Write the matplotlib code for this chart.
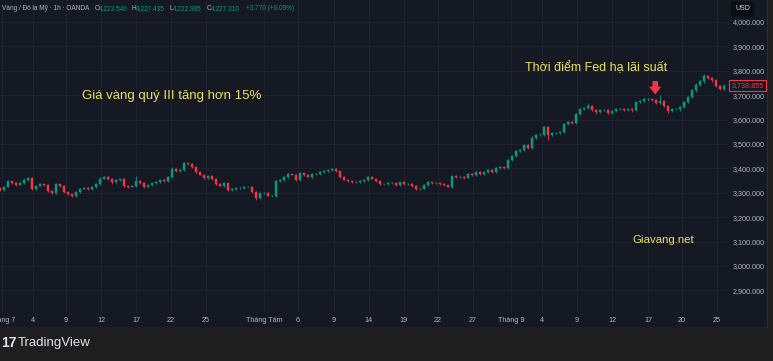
import matplotlib
matplotlib.use("Agg")
import matplotlib.pyplot as plt
from matplotlib.patches import Rectangle
from matplotlib.lines import Line2D
import matplotlib.transforms as mtransforms

# ~8h candles, XAU/USD, Jul - Sep
first_open = 3318
closes = [
    3312, 3324, 3348, 3340, 3332, 3340, 3353, 3361, 3316, 3328,
    3336, 3332, 3307, 3299, 3336, 3328, 3303, 3295, 3287, 3303,
    3316, 3320, 3316, 3324, 3336, 3357, 3365, 3357, 3344, 3353,
    3357, 3328, 3324, 3328, 3348, 3340, 3324, 3332, 3340, 3344,
    3353, 3348, 3365, 3398, 3389, 3393, 3422, 3418, 3406, 3385,
    3373, 3361, 3369, 3357, 3336, 3328, 3340, 3312, 3316, 3320,
    3320, 3324, 3324, 3303, 3279, 3299, 3299, 3287, 3287, 3348,
    3353, 3365, 3377, 3373, 3353, 3381, 3373, 3365, 3377, 3377,
    3385, 3389, 3393, 3398, 3389, 3365, 3353, 3348, 3344, 3344,
    3348, 3353, 3365, 3357, 3348, 3336, 3336, 3340, 3340, 3332,
    3344, 3336, 3336, 3328, 3316, 3316, 3332, 3344, 3340, 3340,
    3336, 3332, 3324, 3369, 3365, 3365, 3361, 3377, 3373, 3385,
    3377, 3385, 3393, 3385, 3402, 3406, 3402, 3434, 3451, 3471,
    3475, 3496, 3484, 3525, 3537, 3537, 3570, 3537, 3545, 3545,
    3549, 3582, 3590, 3586, 3623, 3643, 3648, 3656, 3639, 3631,
    3639, 3639, 3627, 3635, 3643, 3643, 3639, 3643, 3639, 3672,
    3676, 3684, 3684, 3680, 3668, 3676, 3656, 3635, 3643, 3643,
    3652, 3672, 3693, 3721, 3742, 3758, 3779, 3770, 3762, 3738,
    3725, 3739,
]
wick_hi = [
    4, 3, 5, 2, 3, 4, 6, 3, 2, 4,
    3, 2, 4, 3, 5, 2, 3, 4, 2, 3,
    5, 3, 2, 4, 3, 6, 4, 2, 3, 5,
    3, 4, 2, 3, 21, 4, 3, 2, 5, 3,
    4, 3, 2, 6, 3, 4, 5, 2, 3, 4,
    3, 4, 2, 3, 5, 3, 4, 2, 3, 4,
    2, 3, 4, 5, 3, 2, 4, 3, 5, 3,
    4, 2, 3, 6, 4, 3, 2, 5, 3, 4,
    3, 4, 2, 3, 5, 2, 4, 3, 3, 4,
    5, 3, 2, 4, 3, 5, 2, 3, 4, 3,
    2, 4, 3, 5, 3, 2, 4, 3, 2, 4,
    3, 5, 2, 3, 4, 2, 5, 3, 4, 3,
    4, 2, 3, 5, 3, 4, 2, 6, 3, 4,
    5, 3, 4, 6, 3, 8, 5, 4, 3, 5,
    4, 6, 3, 5, 4, 3, 5, 12, 4, 3,
    5, 3, 4, 6, 3, 4, 5, 3, 4, 6,
    4, 5, 3, 6, 4, 25, 5, 3, 4, 5,
    3, 6, 4, 5, 7, 4, 6, 5, 3, 6,
    4, 5,
]
wick_lo = [
    3, 4, 2, 5, 3, 2, 4, 3, 6, 3,
    2, 4, 3, 5, 2, 3, 4, 2, 3, 5,
    3, 2, 4, 3, 5, 3, 2, 4, 6, 3,
    4, 3, 5, 2, 3, 4, 3, 2, 4, 3,
    3, 5, 2, 4, 3, 2, 4, 3, 5, 3,
    2, 4, 3, 3, 5, 2, 4, 3, 6, 3,
    4, 3, 2, 4, 8, 3, 5, 2, 4, 3,
    3, 5, 3, 2, 6, 3, 4, 2, 3, 4,
    5, 2, 4, 3, 3, 4, 2, 5, 3, 2,
    3, 4, 5, 2, 3, 4, 2, 3, 5, 3,
    4, 2, 3, 4, 6, 3, 2, 4, 3, 5,
    3, 4, 2, 5, 3, 4, 3, 2, 4, 3,
    5, 3, 4, 2, 3, 5, 4, 3, 2, 4,
    3, 5, 4, 3, 6, 4, 5, 21, 4, 3,
    6, 4, 5, 3, 4, 6, 3, 5, 4, 7,
    4, 5, 3, 6, 4, 3, 5, 4, 6, 3,
    5, 4, 6, 3, 5, 4, 3, 8, 5, 4,
    6, 4, 5, 3, 6, 4, 7, 5, 6, 4,
    5, 3,
]
last_price = 3738.855

price_ticks = [2900, 3000, 3100, 3200, 3300, 3400, 3500, 3600, 3700, 3800, 3900, 4000]
date_pos = [0.5, 8.25, 16.5, 25.25, 34, 42.75, 51.5, 66, 74.5, 83.5, 92.25,
            101, 109.5, 118.25, 127.75, 135.5, 144.25, 153, 162, 170.5, 179.25]
date_labels = ["Tháng 7", "4", "9", "12", "17", "22", "25", "Tháng Tám", "6", "9", "14",
               "19", "22", "27", "Tháng 9", "4", "9", "12", "17", "20", "25"]
fed_cut_idx = 163.8

header_parts = [("Vàng / Đô la Mỹ · 1h · OANDA", 2, "#b2b5be"),
                ("O", 95, "#b2b5be"), ("4,223.540", 99, "#089981"),
                ("H", 132, "#b2b5be"), ("4,227.435", 136, "#089981"),
                ("L", 169, "#b2b5be"), ("4,222.995", 173, "#089981"),
                ("C", 207, "#b2b5be"), ("4,227.310", 211, "#089981"),
                ("+3.770 (+0.09%)", 246, "#089981")]

BG = "#151924"
UP = "#089981"
DOWN = "#f23645"
TXT = "#b2b5be"
YEL = "#ede15b"
plt.rcParams["font.family"] = ["Liberation Sans", "DejaVu Sans"]

W, H = 773, 361
fig = plt.figure(figsize=(W / 100, H / 100), dpi=100, facecolor="#1e1e1e")
fig.patches.append(Rectangle((0, 34 / H), 767 / W, 327 / H, transform=fig.transFigure,
                             fc=BG, ec="none", zorder=-5))
fig.lines.append(Line2D([767 / W, 767 / W], [34 / H, 1], transform=fig.transFigure,
                        color="#2a2e39", lw=0.8, zorder=-4))

ax = fig.add_axes([0, 48 / H, 727 / W, 313 / H])
ax.set_facecolor(BG)
for s in ax.spines.values():
    s.set_visible(False)

opens = [first_open] + closes[:-1]
xs = list(range(len(closes)))
tops = [max(o, c) for o, c in zip(opens, closes)]
bots = [min(o, c) for o, c in zip(opens, closes)]
cols = [UP if c >= o else DOWN for o, c in zip(opens, closes)]
highs = [t + w for t, w in zip(tops, wick_hi)]
lows = [b - w for b, w in zip(bots, wick_lo)]

ax.vlines(xs, lows, highs, colors=cols, lw=0.6, zorder=3)
ax.bar(xs, [t - b for t, b in zip(tops, bots)], bottom=bots, width=0.6,
       color=cols, edgecolor=cols, linewidth=0.3, zorder=4)

ax.set_xlim(0, 181.75)
ax.set_ylim(2807.5, 4090)
ax.yaxis.tick_right()
ax.set_yticks(price_ticks, [f"{v:,.3f}" for v in price_ticks])
ax.set_xticks(date_pos, date_labels)
ax.tick_params(axis="y", length=0, pad=4, labelsize=5.2, colors=TXT)
ax.tick_params(axis="x", length=0, pad=3, labelsize=5.2, colors=TXT)
ax.grid(True, color="#1f2331", lw=0.7)
ax.set_axisbelow(True)

# last price tag
trans = mtransforms.blended_transform_factory(ax.transAxes, ax.transData)
ax.text(1.006, last_price, f"{last_price:,.3f}", transform=trans, ha="left", va="center",
        fontsize=5.2, color=DOWN, zorder=6, clip_on=False,
        bbox=dict(boxstyle="square,pad=0.3", fc=BG, ec=DOWN, lw=0.8))

# Fed cut arrow
ax.annotate("", xy=(fed_cut_idx, 3703), xytext=(fed_cut_idx, 3758),
            arrowprops=dict(arrowstyle="simple,head_length=0.7,head_width=1.1,tail_width=0.5",
                            color=DOWN, lw=0, shrinkA=0, shrinkB=0, mutation_scale=8), zorder=6)

# annotations
fig.text(82 / W, 1 - 96 / H, "Giá vàng quý III tăng hơn 15%", color=YEL, fontsize=9.5,
         va="center", ha="left")
fig.text(525 / W, 1 - 68 / H, "Thời điểm Fed hạ lãi suất", color=YEL, fontsize=9,
         va="center", ha="left")
fig.text(632 / W, 1 - 240 / H, "Giavang.net", color=YEL, fontsize=8.2,
         va="center", ha="left")

# header
for txt, px, c in header_parts:
    fig.text(px / W, 1 - 8.5 / H, txt, color=c, fontsize=4.7, va="center", ha="left")

# currency box
fig.text(735 / W, 1 - 9 / H, "USD", color="#d1d4dc", fontsize=5, va="center", ha="left",
         bbox=dict(boxstyle="round,pad=0.6,rounding_size=0.3", fc="#0c0e14", ec="none"))

# watermark
fig.text(1 / W, 1 - 343 / H, "17", color="#e0e3eb", fontsize=10, fontweight="bold",
         va="center", ha="left")
fig.text(18 / W, 1 - 343 / H, "TradingView", color="#e0e3eb", fontsize=9.5,
         va="center", ha="left")

fig.savefig("out.png", dpi=100, facecolor=fig.get_facecolor())
